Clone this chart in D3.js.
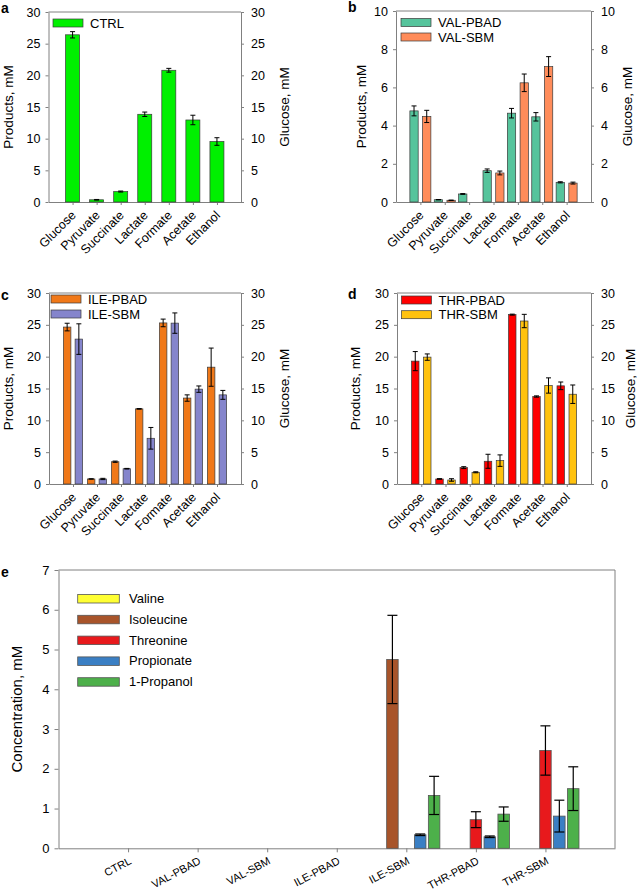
<!DOCTYPE html>
<html>
<head>
<meta charset="utf-8">
<script src="https://cdn.jsdelivr.net/npm/d3@7"></script>
<style>
body { margin: 0; background: #fff; }
svg { font-family: "Liberation Sans", Arial, sans-serif; }
</style>
</head>
<body>
<div id="chart"></div>
<script>
// ---- data ----
var products = ['Glucose', 'Pyruvate', 'Succinate', 'Lactate', 'Formate', 'Acetate', 'Ethanol'];

var ctrlMean = [26.4, 0.35, 1.65, 13.85, 20.8, 12.95, 9.55];
var ctrlErr  = [0.5, 0.05, 0.08, 0.35, 0.3, 0.75, 0.6];

var valPbadMean = [4.77, 0.12, 0.42, 1.64, 4.65, 4.46, 1.03];
var valPbadErr  = [0.26, 0.01, 0.02, 0.09, 0.25, 0.22, 0.03];
var valSbmMean  = [4.48, 0.09, 0, 1.52, 6.24, 7.09, 0.99];
var valSbmErr   = [0.32, 0.01, 0, 0.1, 0.46, 0.52, 0.05];

var ilePbadMean = [24.65, 0.79, 3.5, 11.8, 25.3, 13.5, 18.35];
var ilePbadErr  = [0.6, 0.03, 0.1, 0.05, 0.6, 0.5, 3.0];
var ileSbmMean  = [22.76, 0.79, 2.4, 7.18, 25.27, 14.9, 14.0];
var ileSbmErr   = [2.4, 0.1, 0.05, 1.7, 1.6, 0.5, 0.7];

var thrPbadMean = [19.3, 0.79, 2.57, 3.57, 26.6, 13.74, 15.42];
var thrPbadErr  = [1.5, 0.05, 0.15, 1.1, 0.08, 0.1, 0.6];
var thrSbmMean  = [19.93, 0.63, 1.84, 3.67, 25.6, 15.47, 14.1];
var thrSbmErr   = [0.5, 0.2, 0.08, 0.9, 1.05, 1.2, 1.45];

var strains   = ['CTRL', 'VAL-PBAD', 'VAL-SBM', 'ILE-PBAD', 'ILE-SBM', 'THR-PBAD', 'THR-SBM'];
var compounds = ['Valine', 'Isoleucine', 'Threonine', 'Propionate', '1-Propanol'];

var valineConc     = [0, 0, 0, 0, 0, 0, 0];
var valineErr      = [0, 0, 0, 0, 0, 0, 0];
var isoleucineConc = [0, 0, 0, 0, 4.75, 0, 0];
var isoleucineErr  = [0, 0, 0, 0, 1.11, 0, 0];
var threonineConc  = [0, 0, 0, 0, 0, 0.72, 2.46];
var threonineErr   = [0, 0, 0, 0, 0, 0.2, 0.62];
var propionateConc = [0, 0, 0, 0, 0.34, 0.29, 0.81];
var propionateErr  = [0, 0, 0, 0, 0.02, 0.02, 0.4];
var propanolConc   = [0, 0, 0, 0, 1.33, 0.86, 1.5];
var propanolErr    = [0, 0, 0, 0, 0.48, 0.18, 0.55];

// ---- canvas ----
var width = 638,
	height = 894;

var svg = d3.select('#chart')
			.append('svg')
			.attr('width', width)
			.attr('height', height);

var frameColor = '#808080';

function styleAxis(sel, size) {
	sel.select('.domain').attr('stroke', frameColor);
	sel.selectAll('.tick line').attr('stroke', frameColor);
	sel.selectAll('.tick text').attr('fill', '#000').style('font-size', size + 'px');
	sel.attr('font-family', null);
}

// one of the product panels a-d
function productPanel(o) {
	var g = svg.append('g');

	var x = d3.scalePoint().domain(products).range([o.x0, o.x1]).padding(1);
	var y = d3.scaleLinear().domain([0, o.ymax]).range([o.y1, o.y0]);
	var ticks = d3.range(0, o.ymax + 0.001, o.step);

	// frame + axes
	g.append('line')
		.attr('x1', o.x0).attr('x2', o.x1)
		.attr('y1', o.y0).attr('y2', o.y0)
		.attr('stroke', frameColor);

	g.append('g')
		.attr('transform', 'translate(' + o.x0 + ',0)')
		.call(d3.axisLeft(y).tickValues(ticks).tickSize(3).tickSizeOuter(0).tickPadding(5))
		.call(styleAxis, 12.5);

	g.append('g')
		.attr('transform', 'translate(' + o.x1 + ',0)')
		.call(d3.axisRight(y).tickValues(ticks).tickSize(3).tickSizeOuter(0).tickPadding(7))
		.call(styleAxis, 12.5);

	g.append('g')
		.attr('transform', 'translate(0,' + o.y1 + ')')
		.call(d3.axisBottom(x).tickSize(3).tickSizeOuter(0).tickFormat(''))
		.call(styleAxis, 12);

	g.selectAll('.xlab')
		.data(products).enter()
		.append('text')
		.attr('class', 'xlab')
		.attr('text-anchor', 'end')
		.attr('transform', d => 'translate(' + (x(d) + 4) + ',' + (o.y1 + 14) + ') rotate(-45)')
		.style('font-size', '12.5px')
		.text(d => d);

	// axis titles
	g.append('text')
		.attr('transform', 'translate(' + o.ltx + ',' + (o.y0 + o.y1) / 2 + ') rotate(-90)')
		.attr('text-anchor', 'middle')
		.style('font-size', '13.5px')
		.text('Products, mM');

	g.append('text')
		.attr('transform', 'translate(' + o.rtx + ',' + (o.y0 + o.y1) / 2 + ') rotate(-90)')
		.attr('text-anchor', 'middle')
		.style('font-size', '13.5px')
		.text('Glucose, mM');

	// panel letter
	g.append('text')
		.attr('x', o.lx).attr('y', o.ly)
		.style('font-size', '14px')
		.style('font-weight', 'bold')
		.text(o.letter);

	// bars
	var n = o.series.length;
	o.series.forEach(function(s, k) {
		var off = (k - (n - 1) / 2) * o.gap;
		var rows = products.map((p, i) => ({ p: p, v: s.mean[i], e: s.err[i] }))
			.filter(d => d.v > 0);

		var sg = g.append('g');
		sg.selectAll('rect')
			.data(rows).enter()
			.append('rect')
			.attr('x', d => x(d.p) + off - o.bw / 2)
			.attr('y', d => y(d.v))
			.attr('width', o.bw)
			.attr('height', d => y(0) - y(d.v))
			.attr('fill', s.color)
			.attr('stroke', '#3a3a3a')
			.attr('stroke-width', 0.7);

		var eb = sg.selectAll('.err')
			.data(rows).enter()
			.append('g')
			.attr('stroke', '#000')
			.attr('stroke-width', 1);
		eb.append('line')
			.attr('x1', d => x(d.p) + off).attr('x2', d => x(d.p) + off)
			.attr('y1', d => y(d.v + d.e)).attr('y2', d => y(d.v - d.e));
		eb.append('line')
			.attr('x1', d => x(d.p) + off - 2.5).attr('x2', d => x(d.p) + off + 2.5)
			.attr('y1', d => y(d.v + d.e)).attr('y2', d => y(d.v + d.e));
		eb.append('line')
			.attr('x1', d => x(d.p) + off - 2.5).attr('x2', d => x(d.p) + off + 2.5)
			.attr('y1', d => y(d.v - d.e)).attr('y2', d => y(d.v - d.e));

		// legend
		var ly = o.legY + k * o.legStep;
		g.append('rect')
			.attr('x', o.legX).attr('y', ly)
			.attr('width', 30).attr('height', 8)
			.attr('fill', s.color)
			.attr('stroke', '#3a3a3a')
			.attr('stroke-width', 0.7);
		g.append('text')
			.attr('x', o.legX + 37).attr('y', ly + 8.5)
			.style('font-size', '13px')
			.text(s.name);
	});
}

productPanel({
	letter: 'a', lx: 1, ly: 13,
	x0: 48.5, x1: 241, y0: 12, y1: 202, ymax: 30, step: 5,
	ltx: 12.5, rtx: 289,
	bw: 14, gap: 0,
	legX: 53, legY: 19, legStep: 14.5,
	series: [{ name: 'CTRL', color: '#00f000', mean: ctrlMean, err: ctrlErr }]
});

productPanel({
	letter: 'b', lx: 348, ly: 12,
	x0: 396, x1: 591, y0: 11, y1: 202, ymax: 10, step: 2,
	ltx: 365.5, rtx: 632,
	bw: 8.3, gap: 12.7,
	legX: 401, legY: 18.5, legStep: 14.5,
	series: [
		{ name: 'VAL-PBAD', color: '#56c49c', mean: valPbadMean, err: valPbadErr },
		{ name: 'VAL-SBM', color: '#ff8c5a', mean: valSbmMean, err: valSbmErr }
	]
});

productPanel({
	letter: 'c', lx: 1, ly: 300,
	x0: 49, x1: 241, y0: 293, y1: 484, ymax: 30, step: 5,
	ltx: 12.5, rtx: 289,
	bw: 7.5, gap: 11.7,
	legX: 51, legY: 295, legStep: 15,
	series: [
		{ name: 'ILE-PBAD', color: '#f07818', mean: ilePbadMean, err: ilePbadErr },
		{ name: 'ILE-SBM', color: '#8585cc', mean: ileSbmMean, err: ileSbmErr }
	]
});

productPanel({
	letter: 'd', lx: 348, ly: 299,
	x0: 397, x1: 591, y0: 293, y1: 484, ymax: 30, step: 5,
	ltx: 360, rtx: 635,
	bw: 7.5, gap: 12,
	legX: 401.5, legY: 296, legStep: 14.7,
	series: [
		{ name: 'THR-PBAD', color: '#ff0000', mean: thrPbadMean, err: thrPbadErr },
		{ name: 'THR-SBM', color: '#ffc20e', mean: thrSbmMean, err: thrSbmErr }
	]
});

// ---- panel e ----
(function() {
	var x0 = 58.5, x1 = 615, y0 = 570, y1 = 848.3;
	var g = svg.append('g');

	var x = d3.scalePoint().domain(strains).range([x0, x1]).padding(1);
	var y = d3.scaleLinear().domain([0, 7]).range([y1, y0]);

	var series = [
		{ name: compounds[0], color: '#ffff33', mean: valineConc, err: valineErr },
		{ name: compounds[1], color: '#a8542a', mean: isoleucineConc, err: isoleucineErr },
		{ name: compounds[2], color: '#e8191c', mean: threonineConc, err: threonineErr },
		{ name: compounds[3], color: '#3a7fc4', mean: propionateConc, err: propionateErr },
		{ name: compounds[4], color: '#4db04a', mean: propanolConc, err: propanolErr }
	];

	g.append('path')
		.attr('d', 'M' + x0 + ',' + y0 + 'H' + x1 + 'V' + y1)
		.attr('fill', 'none')
		.attr('stroke', frameColor);

	g.append('g')
		.attr('transform', 'translate(' + x0 + ',0)')
		.call(d3.axisLeft(y).ticks(7).tickSize(4).tickSizeOuter(0).tickPadding(5))
		.call(styleAxis, 13);

	g.append('g')
		.attr('transform', 'translate(0,' + y1 + ')')
		.call(d3.axisBottom(x).tickSize(4).tickSizeOuter(0).tickFormat(''))
		.call(styleAxis, 12);

	g.selectAll('.xlab')
		.data(strains).enter()
		.append('text')
		.attr('text-anchor', 'end')
		.attr('transform', d => 'translate(' + (x(d) + 4) + ',' + (y1 + 15) + ') rotate(-28)')
		.style('font-size', '11px')
		.text(d => d);

	g.append('text')
		.attr('transform', 'translate(22,' + (y0 + y1) / 2 + ') rotate(-90)')
		.attr('text-anchor', 'middle')
		.style('font-size', '15px')
		.text('Concentration, mM');

	g.append('text')
		.attr('x', 1).attr('y', 577)
		.style('font-size', '14px')
		.style('font-weight', 'bold')
		.text('e');

	var slot = 13.9, bw = 11.5;
	series.forEach(function(s, k) {
		var off = (k - 2) * slot;
		var rows = strains.map((c, i) => ({ c: c, v: s.mean[i], e: s.err[i] }))
			.filter(d => d.v > 0);

		var sg = g.append('g');
		sg.selectAll('rect')
			.data(rows).enter()
			.append('rect')
			.attr('x', d => x(d.c) + off - bw / 2)
			.attr('y', d => y(d.v))
			.attr('width', bw)
			.attr('height', d => y(0) - y(d.v))
			.attr('fill', s.color)
			.attr('stroke', '#555')
			.attr('stroke-width', 0.8);

		var eb = sg.selectAll('.err')
			.data(rows).enter()
			.append('g')
			.attr('stroke', '#000')
			.attr('stroke-width', 1.2);
		eb.append('line')
			.attr('x1', d => x(d.c) + off).attr('x2', d => x(d.c) + off)
			.attr('y1', d => y(d.v + d.e)).attr('y2', d => y(d.v - d.e));
		eb.append('line')
			.attr('x1', d => x(d.c) + off - 5).attr('x2', d => x(d.c) + off + 5)
			.attr('y1', d => y(d.v + d.e)).attr('y2', d => y(d.v + d.e));
		eb.append('line')
			.attr('x1', d => x(d.c) + off - 5).attr('x2', d => x(d.c) + off + 5)
			.attr('y1', d => y(d.v - d.e)).attr('y2', d => y(d.v - d.e));

		// legend
		var ly = 594.5 + k * 20.8;
		g.append('rect')
			.attr('x', 77.7).attr('y', ly)
			.attr('width', 41.6).attr('height', 8.5)
			.attr('fill', s.color)
			.attr('stroke', '#555')
			.attr('stroke-width', 0.8);
		g.append('text')
			.attr('x', 129).attr('y', ly + 8.5)
			.style('font-size', '13px')
			.text(s.name);
	});
})();
</script>
</body>
</html>
